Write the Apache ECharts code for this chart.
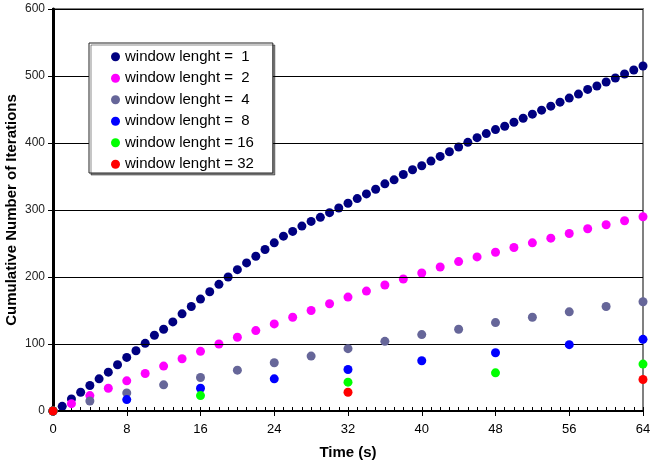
<!DOCTYPE html>
<html>
<head>
<meta charset="utf-8">
<script src="https://cdn.jsdelivr.net/npm/echarts@6/dist/echarts.min.js"></script>
<style>
    html, body { margin: 0; padding: 0; background: #fff; }
    #chart { width: 650px; height: 461px; }
</style>
</head>
<body>
<div id="chart"></div>
<script>
// 各窗口长度的累计迭代次数
var names = ['window lenght =  1', 'window lenght =  2', 'window lenght =  4',
             'window lenght =  8', 'window lenght = 16', 'window lenght = 32'];
var colors = ['#000080', '#FF00FF', '#666699', '#0000FF', '#00FF00', '#FF0000'];
var steps = [1, 2, 4, 8, 16, 32];

var win1 = [0, 7, 18, 28, 38, 48, 58, 69, 80, 90, 101, 113, 122, 133, 145, 156,
            167, 178, 189, 200, 211, 221, 231, 241, 251, 261, 268, 276, 283, 289, 296, 303,
            310, 317, 324, 331, 339, 345, 353, 360, 366, 373, 380, 387, 394, 401, 408, 414,
            420, 425, 431, 437, 443, 449, 455, 461, 467, 473, 480, 485, 491, 497, 503, 509, 515];
var win2 = [0, 11, 23, 34, 45, 56, 67, 78, 89, 100, 110, 120, 130, 140, 150, 160,
            170, 179, 188, 197, 206, 215, 223, 230, 237, 244, 251, 258, 265, 272, 278, 284, 290];
var win4 = [0, 15, 27, 39, 50, 61, 72, 82, 93, 104, 114, 122, 132, 140, 148, 156, 163];
var win8 = [0, 17, 34, 48, 62, 75, 87, 99, 107];
var win16 = [0, 23, 43, 57, 70];
var win32 = [0, 28, 47];

var values = [win1, win2, win4, win8, win16, win32];

function toPoints(list, step) {
    var pts = [];
    for (var i = 0; i < list.length; i++) {
        pts.push([i * step, list[i]]);
    }
    return pts;
}

var series = [];
for (var k = 0; k < names.length; k++) {
    series.push({
        name: names[k],
        type: 'scatter',
        symbol: 'circle',
        symbolSize: 9,
        itemStyle: {color: colors[k], opacity: 1},
        data: toPoints(values[k], steps[k]),
        z: 3 + k
    });
}

var myChart = echarts.init(document.getElementById('chart'));
var option = {
    animation: false,
    textStyle: {fontFamily: 'Liberation Sans, Arial, sans-serif'},
    grid: {
        left: 53, right: 7, top: 9, bottom: 50,
        outerBoundsMode: 'none',
        containLabel: false,
        show: true,
        borderColor: '#808080',
        borderWidth: 2,
        backgroundColor: '#fff'
    },
    legend: {
        orient: 'vertical',
        left: 89,
        top: 43,
        z: 20,
        padding: [6, 19, 1, 22],
        itemWidth: 9,
        itemHeight: 9,
        itemGap: 6,
        itemTextGap: 4,
        icon: 'circle',
        backgroundColor: '#fff',
        borderColor: '#222',
        borderWidth: 1,
        shadowColor: 'rgba(0,0,0,0.45)',
        shadowOffsetX: 2,
        shadowOffsetY: 2,
        shadowBlur: 0,
        textStyle: {fontSize: 15, color: '#000', lineHeight: 15.5},
        data: names
    },
    xAxis: [{
        type: 'value',
        min: 0, max: 64, interval: 8,
        name: 'Time (s)',
        nameLocation: 'middle',
        nameGap: 34,
        nameMoveOverlap: false,
        nameTextStyle: {fontSize: 15, fontWeight: 'bold', color: '#000'},
        axisLine: {lineStyle: {color: '#000', width: 2}},
        axisTick: {show: true, length: 5, lineStyle: {color: '#000'}},
        axisLabel: {fontSize: 13, color: '#000', margin: 12},
        splitLine: {show: false},
        z: 5
    }, {
        type: 'value',
        position: 'bottom',
        min: 0, max: 64, interval: 1,
        axisLine: {show: false},
        axisTick: {show: true, inside: true, length: 4, lineStyle: {color: '#000'}},
        axisLabel: {show: false},
        splitLine: {show: false}
    }],
    yAxis: [{
        type: 'value',
        min: 0, max: 600, interval: 100,
        name: 'Cumulative Number of Iterations',
        nameLocation: 'middle',
        nameGap: 34,
        nameMoveOverlap: false,
        nameTextStyle: {fontSize: 15, fontWeight: 'bold', color: '#000'},
        axisLine: {show: true, lineStyle: {color: '#000', width: 2}},
        axisTick: {show: true, length: 5, lineStyle: {color: '#000'}},
        axisLabel: {fontSize: 12, color: '#222', margin: 8},
        splitLine: {show: true, lineStyle: {color: '#000', width: 1}},
        z: 5
    }, {
        type: 'value',
        position: 'right',
        min: 0, max: 600, interval: 100,
        axisLine: {show: true, lineStyle: {color: '#000', width: 3}},
        axisTick: {show: false},
        axisLabel: {show: false},
        splitLine: {show: false},
        z: 5
    }],
    series: series
};
myChart.setOption(option);
</script>
</body>
</html>
